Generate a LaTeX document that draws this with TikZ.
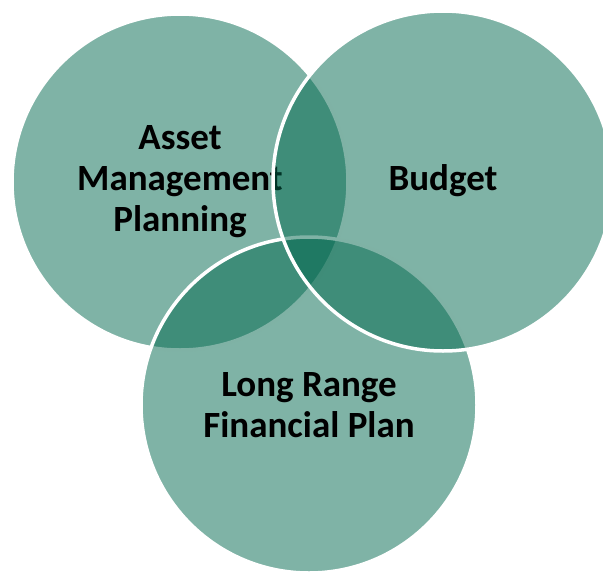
\documentclass[tikz,border=0pt]{standalone}
\usepackage{fontspec}
\setmainfont{Carlito}
\usepackage{tikz}
\usetikzlibrary{positioning}
\usepackage{xcolor}
\definecolor{plangreen}{RGB}{0,103,77}

\begin{document}
\begin{tikzpicture}[
    x=1pt, y=-1pt,
    ring/.style={circle, draw=white, line width=3.5pt, fill=plangreen, fill opacity=0.5,
        text opacity=1, minimum size=336pt, inner sep=0pt, align=center,
        font=\fontsize{37}{41}\selectfont\bfseries}
]
\useasboundingbox (0,0) rectangle (603,571);

% Asset management circle
\node[ring] (AMP) at (180,182) {Asset\\Management\\Planning};

% Long range plan circle
\node[ring] (LRFP) at (309,405) {Long Range\\Financial Plan};

% Budget circle
\node[ring, minimum size=340pt] (BUD) at (443,181) {Budget};

\end{tikzpicture}
\end{document}
